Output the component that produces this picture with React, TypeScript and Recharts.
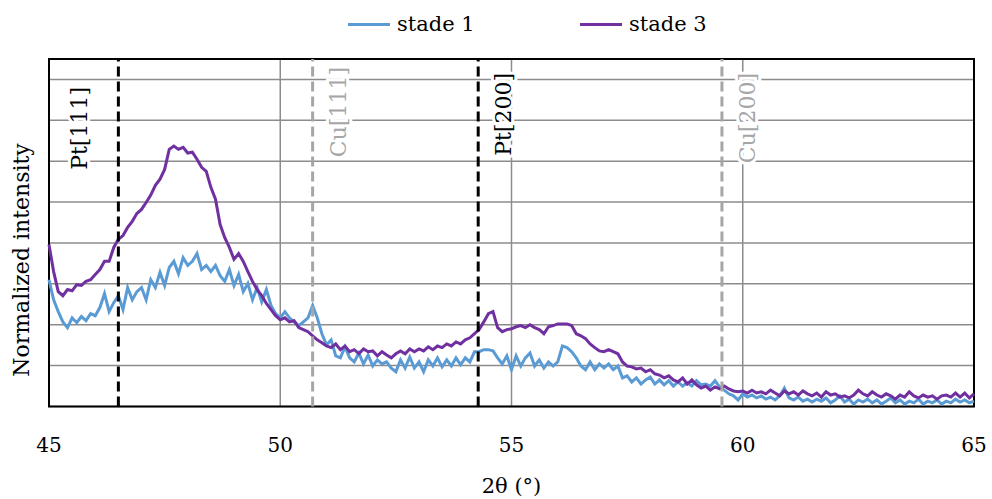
import React from "react"
import {
  LineChart,
  Line,
  XAxis,
  YAxis,
  CartesianGrid,
  ReferenceLine,
  ReferenceArea,
} from "recharts"

// 2θ sampled every 0.1° from 45 to 65
const stade1 = [
  3.10, 2.61, 2.32, 2.07, 1.93, 2.17, 2.05, 2.20, 2.10, 2.27,
  2.22, 2.42, 2.76, 2.32, 2.54, 2.71, 2.37, 2.91, 2.61, 2.81,
  2.91, 2.61, 3.10, 2.91, 3.28, 2.96, 3.40, 3.55, 3.25, 3.64,
  3.45, 3.55, 3.74, 3.35, 3.45, 3.30, 3.45, 3.20, 3.06, 3.35,
  2.96, 3.23, 2.81, 3.01, 2.61, 2.91, 2.56, 2.86, 2.47, 2.27,
  2.17, 2.32, 2.17, 2.07, 1.98, 2.07, 2.17, 2.47, 2.17, 1.78,
  1.51, 1.63, 1.24, 1.19, 1.46, 1.19, 1.09, 1.31, 1.04, 1.26,
  0.99, 1.14, 1.04, 1.09, 0.94, 0.85, 1.14, 0.94, 1.21, 0.94,
  1.09, 0.85, 1.14, 0.99, 1.19, 0.97, 1.14, 0.99, 1.19, 1.02,
  1.19, 1.09, 1.34, 1.34, 1.39, 1.39, 1.36, 1.19, 1.04, 1.24,
  0.90, 1.24, 0.99, 1.19, 1.31, 0.99, 1.14, 0.94, 1.09, 0.99,
  1.09, 1.48, 1.44, 1.34, 1.19, 0.99, 0.90, 1.09, 0.90, 1.04,
  0.94, 1.04, 0.90, 0.99, 0.70, 0.75, 0.60, 0.70, 0.55, 0.65,
  0.72, 0.55, 0.65, 0.53, 0.63, 0.50, 0.60, 0.50, 0.58, 0.50,
  0.63, 0.53, 0.55, 0.50, 0.63, 0.48, 0.40, 0.31, 0.26, 0.16,
  0.31, 0.23, 0.28, 0.21, 0.26, 0.18, 0.23, 0.16, 0.26, 0.45,
  0.21, 0.16, 0.23, 0.13, 0.18, 0.11, 0.18, 0.13, 0.21, 0.09,
  0.16, 0.26, 0.11, 0.18, 0.06, 0.16, 0.11, 0.18, 0.09, 0.16,
  0.06, 0.13, 0.21, 0.09, 0.16, 0.06, 0.13, 0.09, 0.18, 0.06,
  0.13, 0.09, 0.16, 0.06, 0.13, 0.09, 0.18, 0.11, 0.16, 0.09,
  0.13,
]

const stade3 = [
  3.96, 3.30, 2.81, 2.71, 2.86, 2.83, 2.98, 2.96, 3.06, 3.10,
  3.23, 3.35, 3.55, 3.55, 3.89, 4.09, 4.18, 4.38, 4.53, 4.72,
  4.82, 4.99, 5.17, 5.41, 5.56, 5.80, 6.29, 6.37, 6.29, 6.34,
  6.20, 6.22, 6.05, 5.85, 5.75, 5.36, 5.07, 4.45, 4.13, 3.89,
  3.60, 3.74, 3.55, 3.30, 3.06, 2.86, 2.71, 2.52, 2.37, 2.22,
  2.12, 2.17, 2.07, 2.10, 1.93, 1.88, 1.83, 1.73, 1.63, 1.56,
  1.48, 1.44, 1.53, 1.39, 1.48, 1.34, 1.39, 1.29, 1.41, 1.34,
  1.36, 1.24, 1.34, 1.26, 1.19, 1.29, 1.36, 1.29, 1.41, 1.34,
  1.41, 1.36, 1.46, 1.39, 1.48, 1.44, 1.53, 1.48, 1.58, 1.53,
  1.63, 1.68, 1.78, 1.88, 2.07, 2.27, 2.32, 1.93, 1.83, 1.88,
  1.90, 1.95, 1.98, 1.93, 2.00, 1.93, 1.88, 1.78, 1.95, 1.98,
  2.02, 2.02, 2.02, 1.98, 1.78, 1.73, 1.66, 1.53, 1.44, 1.36,
  1.34, 1.39, 1.34, 1.29, 1.09, 0.99, 0.97, 0.92, 0.94, 0.85,
  0.90, 0.80, 0.77, 0.70, 0.75, 0.65, 0.60, 0.70, 0.55, 0.65,
  0.53, 0.45, 0.50, 0.40, 0.48, 0.43, 0.50, 0.43, 0.38, 0.36,
  0.38, 0.33, 0.40, 0.33, 0.36, 0.31, 0.40, 0.33, 0.26, 0.38,
  0.31, 0.36, 0.28, 0.38, 0.31, 0.26, 0.33, 0.23, 0.36, 0.28,
  0.31, 0.23, 0.26, 0.21, 0.28, 0.40, 0.31, 0.26, 0.36, 0.28,
  0.23, 0.31, 0.26, 0.18, 0.28, 0.23, 0.36, 0.26, 0.21, 0.28,
  0.23, 0.26, 0.18, 0.26, 0.28, 0.23, 0.33, 0.23, 0.33, 0.21,
  0.31,
]

const xTicks = [45, 50, 55, 60, 65]
const yTicks = [0, 1, 2, 3, 4, 5, 6, 7, 8]

// raies de référence
const peakLabels = ["Pt[111]", "Cu[111]", "Pt[200]", "Cu[200]"]
const peakPositions = [46.5, 50.7, 54.28, 59.55]

const FONT = "'DejaVu Serif', serif"
const BLUE = "#5B9BD5"
const PURPLE = "#7030A0"

const data = stade1.map((v, i) => ({
  x: Math.round((45 + i * 0.1) * 10) / 10,
  s1: v,
  s3: stade3[i],
}))

function PeakLabel({ viewBox, value, color, left }: any) {
  if (!viewBox) return null
  const x = left ? viewBox.x - 31 : viewBox.x + 33
  const y = viewBox.y + (value === "Cu[111]" ? 8 : value === "Pt[111]" ? 28 : 14)
  return (
    <text
      x={x}
      y={y}
      transform={`rotate(-90 ${x} ${y})`}
      textAnchor="end"
      fill={color}
      stroke="#fff"
      strokeWidth={6}
      paintOrder="stroke"
      fontFamily={FONT}
      fontSize={22}
    >
      {value}
    </text>
  )
}

function YTitle() {
  const x = 29
  const y = 260
  return (
    <text
      x={x}
      y={y}
      transform={`rotate(-90 ${x} ${y})`}
      textAnchor="middle"
      fill="#000"
      fontFamily={FONT}
      fontSize={22}
    >
      Normalized intensity
    </text>
  )
}

// légende en HTML pour ne pas décaler la zone de tracé
function ChartLegend() {
  const items = [
    { name: "stade 1", color: BLUE, left: 348 },
    { name: "stade 3", color: PURPLE, left: 580 },
  ]
  return (
    <>
      {items.map((it) => (
        <div
          key={it.name}
          style={{
            position: "absolute",
            left: it.left,
            top: 10,
            display: "flex",
            alignItems: "center",
            fontFamily: FONT,
            fontSize: 21,
            lineHeight: "28px",
          }}
        >
          <div style={{ width: 42, height: 3, background: it.color, marginRight: 7 }} />
          <span style={{ color: "#000" }}>{it.name}</span>
        </div>
      ))}
    </>
  )
}

export default function App() {
  return (
    <div style={{ position: "absolute", left: 0, top: 0, width: 992, height: 499, background: "#fff" }}>
      <LineChart
        width={992}
        height={499}
        data={data}
        margin={{ top: 59, right: 18, left: 0, bottom: 0 }}
      >
        <CartesianGrid stroke="#8c8c8c" strokeWidth={1.5} />
        <XAxis
          dataKey="x"
          type="number"
          domain={[45, 65]}
          ticks={xTicks}
          height={92.5}
          tickLine={false}
          axisLine={false}
          tickSize={0}
          tickMargin={31}
          tick={{ fontFamily: FONT, fontSize: 20, fill: "#000" }}
          label={{
            value: "2θ (°)",
            position: "insideBottom",
            offset: 6,
            fontFamily: FONT,
            fontSize: 21,
            fill: "#000",
          }}
        />
        <YAxis
          type="number"
          domain={[0, 8.5]}
          ticks={yTicks}
          width={49}
          tickFormatter={() => ""}
          tickLine={false}
          axisLine={false}
          label={<YTitle />}
        />
        <ReferenceArea
          x1={45}
          x2={65}
          y1={0}
          y2={8.5}
          fill="none"
          fillOpacity={0}
          stroke="#000"
          strokeWidth={2}
        />
        <Line
          type="linear"
          dataKey="s1"
          name="stade 1"
          stroke={BLUE}
          strokeWidth={3}
          dot={false}
          isAnimationActive={false}
        />
        <Line
          type="linear"
          dataKey="s3"
          name="stade 3"
          stroke={PURPLE}
          strokeWidth={3}
          dot={false}
          isAnimationActive={false}
        />
        {peakPositions.map((px, i) => {
          const isPt = peakLabels[i].startsWith("Pt")
          const color = isPt ? "#000" : "#A6A6A6"
          return (
            <ReferenceLine
              key={peakLabels[i]}
              x={px}
              stroke={color}
              strokeWidth={3}
              strokeDasharray="10 5"
              label={<PeakLabel value={peakLabels[i]} color={color} left={i === 0} />}
            />
          )
        })}
      </LineChart>
      <ChartLegend />
    </div>
  )
}
